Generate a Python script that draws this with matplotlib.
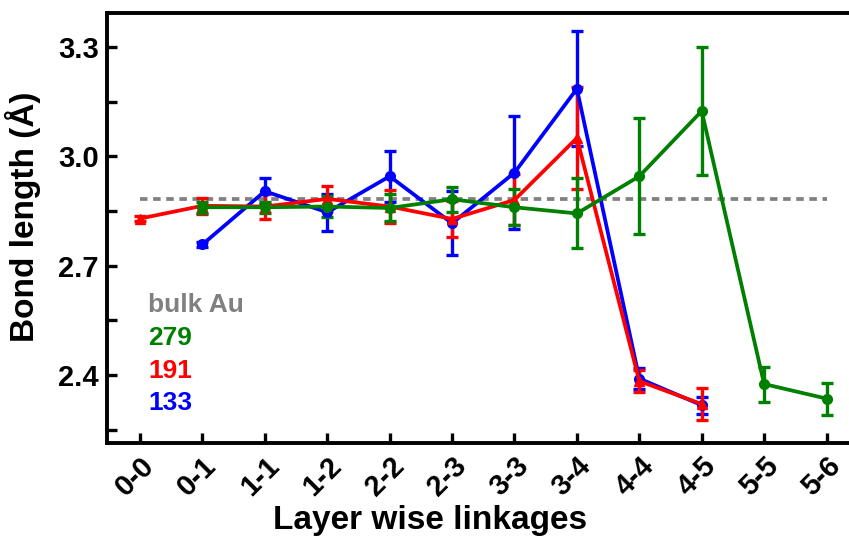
import matplotlib
matplotlib.use("Agg")
import matplotlib.pyplot as plt
import numpy as np

plt.rcParams['font.family'] = ['Liberation Sans', 'DejaVu Sans']
plt.rcParams['font.weight'] = 'bold'

linkages = ["0-0", "0-1", "1-1", "1-2", "2-2", "2-3", "3-3", "3-4", "4-4", "4-5", "5-5", "5-6"]

# series: (x index, value, error)
x_133 = [1, 2, 3, 4, 5, 6, 7, 8, 9]
y_133 = [2.758, 2.904, 2.846, 2.945, 2.816, 2.955, 3.185, 2.39, 2.317]
e_133 = [0.006, 0.035, 0.05, 0.07, 0.088, 0.155, 0.158, 0.03, 0.023]

x_191 = [0, 1, 2, 3, 4, 5, 6, 7, 8, 9]
y_191 = [2.829, 2.864, 2.862, 2.883, 2.862, 2.828, 2.88, 3.05, 2.383, 2.32]
e_191 = [0.006, 0.022, 0.033, 0.034, 0.045, 0.05, 0.07, 0.14, 0.03, 0.045]

x_279 = [1, 2, 3, 4, 5, 6, 7, 8, 9, 10, 11]
y_279 = [2.86, 2.86, 2.862, 2.858, 2.882, 2.86, 2.843, 2.945, 3.124, 2.375, 2.335]
e_279 = [0.015, 0.015, 0.03, 0.037, 0.034, 0.05, 0.096, 0.159, 0.176, 0.048, 0.044]

bulk_au = 2.882

fig = plt.figure(figsize=(8.49, 5.41), dpi=100)
ax = fig.add_axes([0.126, 0.181, 0.8806, 0.795])

style = dict(lw=2.7, capsize=4.5, capthick=2.4, elinewidth=2.4, ms=7)
ax.errorbar(x_133, y_133, yerr=e_133, color="#0000ff", marker="o", **style)
ax.errorbar(x_191, y_191, yerr=e_191, color="#ff0000", marker="^", **style)
ax.errorbar(x_279, y_279, yerr=e_279, color="#008000", marker="o", **style)
ax.plot([0, 11], [bulk_au, bulk_au], color="#808080", lw=2.7, ls=(0, (2.0, 1.5)), zorder=1)

tx = 0.13
ax.text(tx, 2.592, "bulk Au", color="#808080", fontsize=19, fontweight="bold", va="center")
ax.text(tx, 2.502, "279", color="#008000", fontsize=19, fontweight="bold", va="center")
ax.text(tx, 2.411, "191", color="#ff0000", fontsize=19, fontweight="bold", va="center")
ax.text(tx, 2.322, "133", color="#0000ff", fontsize=19, fontweight="bold", va="center")

ax.set_xlim(-0.53, 11.45)
ax.set_ylim(2.213, 3.393)
ax.set_xticks(range(len(linkages)))
ax.set_xticklabels(linkages, rotation=45, ha="right", rotation_mode="anchor", fontsize=21, fontweight="bold")
yt = np.arange(2.25, 3.4, 0.15)
ax.set_yticks(yt)
ax.set_yticklabels(["" if i % 2 == 0 else f"{v:.1f}" for i, v in enumerate(yt)],
                   fontsize=21, fontweight="bold")
ax.tick_params(direction="in", length=7, width=2.4, pad=6)
for s in ax.spines.values():
    s.set_linewidth(2.8)

ax.set_xlabel("Layer wise linkages", fontsize=24, fontweight="bold", va="center")
ax.xaxis.set_label_coords(0.432, -0.179)
ax.set_ylabel("Bond length (Å)", fontsize=24, fontweight="bold", va="center")
ax.yaxis.set_label_coords(-0.112, 0.526)

fig.savefig("out.png", dpi=100)
